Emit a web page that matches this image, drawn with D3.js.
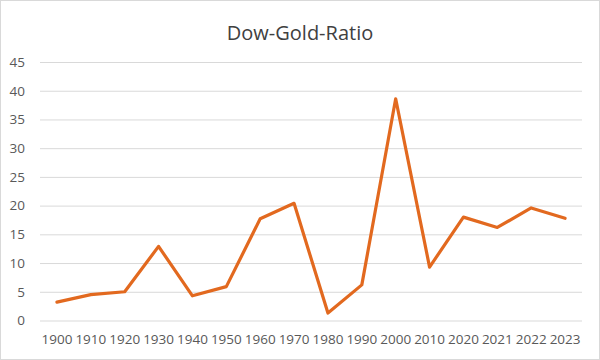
<!DOCTYPE html>
<html><head><meta charset="utf-8">
<script src="https://cdn.jsdelivr.net/npm/d3@7"></script>
<style>body{margin:0;background:#fff}svg{display:block}</style>
</head><body>
<svg id="c" width="600" height="360"></svg>
<script>
const categories = ["1900","1910","1920","1930","1940","1950","1960","1970","1980","1990","2000","2010","2020","2021","2022","2023"];
const values = [3.2, 4.5, 5.0, 12.9, 4.3, 5.9, 17.7, 20.4, 1.3, 6.2, 38.6, 9.3, 18.0, 16.2, 19.6, 17.8];
const yTicks = [0,5,10,15,20,25,30,35,40,45];
const title = "Dow-Gold-Ratio";

const svg = d3.select("#c");
const W = 600, H = 360;
const font = "'Open Sans', 'Noto Sans', sans-serif";
svg.append("rect").attr("x",0.5).attr("y",0.5).attr("width",W-1).attr("height",H-1)
  .attr("fill","#fff").attr("stroke","#d9d9d9");

const m = {l:40, r:18, t:62, b:40};
const x = d3.scaleBand().domain(categories).range([m.l, W-m.r]);
const y = d3.scaleLinear().domain([0,45]).range([320.5, 62]);

svg.append("text").attr("x",300).attr("y",40).attr("text-anchor","middle")
  .attr("font-family",font).attr("font-size",20).attr("fill","#404040").text(title);

const ya = svg.append("g").attr("transform",`translate(${m.l},0)`)
  .call(d3.axisLeft(y).tickValues(yTicks).tickSize(-(W-m.r-m.l)).tickPadding(15));
ya.select(".domain").remove();
ya.selectAll("line").attr("stroke","#d9d9d9");
ya.selectAll("text").attr("font-family",font).attr("font-size",13.5).attr("fill","#595959");

const xa = svg.append("g").attr("transform",`translate(0,${y(0)})`)
  .call(d3.axisBottom(x).tickSize(0).tickPadding(14));
xa.select(".domain").remove();
xa.selectAll("text").attr("font-family",font).attr("font-size",13.5).attr("fill","#595959");

const line = d3.line().x((d,i)=>x(categories[i])+x.bandwidth()/2).y(d=>y(d));
svg.append("path").datum(values).attr("d",line).attr("fill","none")
  .attr("stroke","#E2691F").attr("stroke-width",3.2).attr("stroke-linejoin","round").attr("stroke-linecap","round");
</script>
</body></html>
